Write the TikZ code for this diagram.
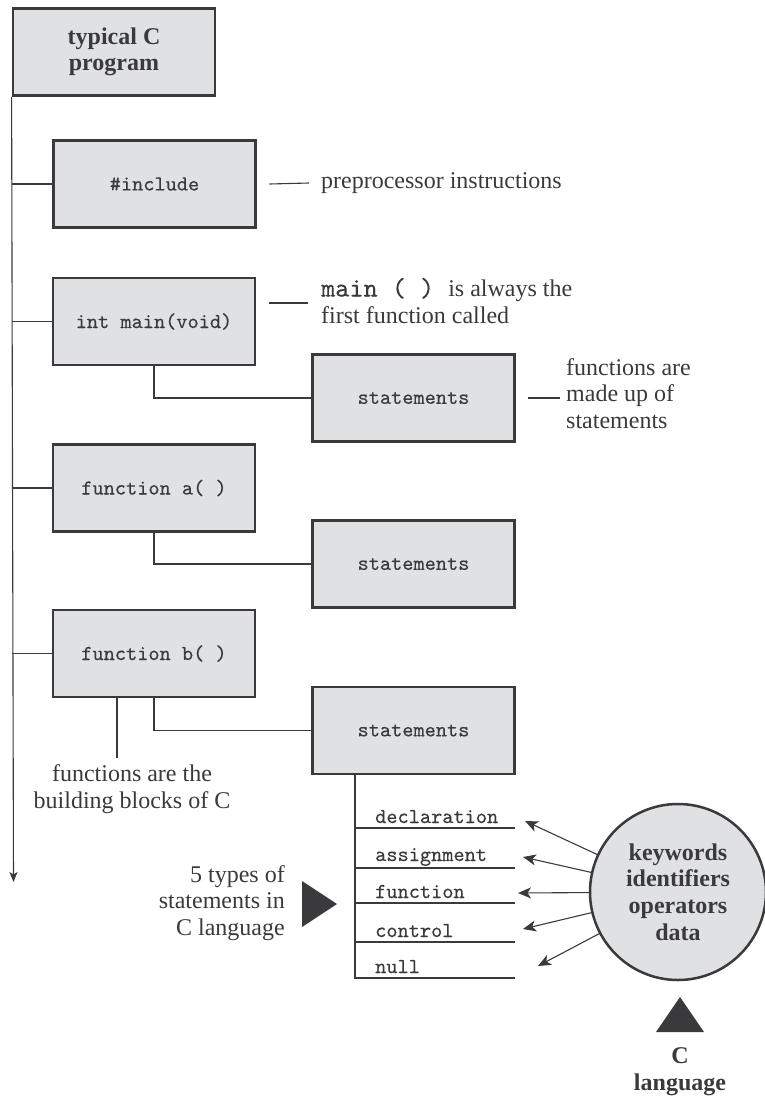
\documentclass[tikz,border=0pt]{standalone}
\usepackage{fontspec}
\setmainfont{Liberation Serif}
\newfontfamily\cour{lmmono10-regular.otf}[FakeBold=0.3]
\usetikzlibrary{arrows.meta}
\definecolor{ink}{RGB}{58,58,60}
\definecolor{boxfill}{RGB}{224,225,227}
\begin{document}
\begin{tikzpicture}[x=1pt,y=-1pt,
  box/.style={draw=ink, fill=boxfill, line width=2.8pt, minimum width=202pt,
    minimum height=87pt, inner sep=0pt, text=ink, font=\fontsize{21.3}{23}\cour},
  conn/.style={draw=ink, line width=1.1pt},
  arr/.style={conn, -{Stealth[length=13pt,width=11pt,inset=3.5pt]}},
  note/.style={inner sep=0pt, text=ink, font=\fontsize{24}{26.5}\selectfont},
  bnote/.style={inner sep=0pt, text=ink, font=\fontsize{24}{26.5}\selectfont\bfseries},
  item/.style={inner sep=0pt, text=ink, font=\fontsize{21.3}{23}\cour}]
\useasboundingbox (0,0) rectangle (765,1096);

% trunk and branches
\coordinate (tk) at (13.5,882);
\node[box, font=\fontsize{24}{26}\selectfont\bfseries, align=center] (top) at (114,52) {typical C\\program};
\node[box] (inc) at (154.5,184) {\#include};
\node[box] (mn) at (154,321.5) {int main(void)};
\node[box] (fa) at (154,488) {function a( )};
\node[box] (fb) at (154,653.5) {function b( )};
\node[box] (s1) at (413.5,398) {statements};
\node[box] (s2) at (413.5,564) {statements};
\node[box] (s3) at (413.5,730.5) {statements};

\draw[conn, -{Stealth[length=10pt,width=8pt,inset=2.5pt]}] (top.south west) -- (tk);
\draw[conn] (top.south west |- inc.west) -- (inc.west);
\draw[conn] (top.south west |- mn.west) -- (mn.west);
\draw[conn] (top.south west |- fa.west) -- (fa.west);
\draw[conn] (top.south west |- fb.west) -- (fb.west);
\draw[conn] (mn.south) |- (s1.west);
\draw[conn] (fa.south) |- (s2.west);
\draw[conn] (fb.south) |- (s3.west);

% annotations
\node[note, anchor=west] (pre) at (321,183) {preprocessor instructions};
\draw[conn] ([xshift=12.5pt]inc.east) -- ([xshift=-12pt]pre.west);

\node[note, anchor=base west, align=left] (mna) at (321,323)
  {{\fontsize{26.9}{26.5}\cour main ( ) }is always the\\first function called};
\coordinate (a2s) at (269,303);
\coordinate (a2e) at (308,303);
\draw[conn] (a2s) -- (a2e);

\node[note, anchor=base west, align=left] (fmu) at (566,428)
  {functions are\\made up of\\statements};
\draw[conn] ([xshift=12pt]s1.east) -- ++(32,0);

\coordinate (bb) at (117,758);
\draw[conn] (bb |- fb.south) -- (bb);
\node[note, anchor=base, align=center] (fbb) at (132,808)
  {functions are the\\building blocks of C};

% statement list
\coordinate (vx) at (355,978);
\coordinate (e1) at (515,828);
\coordinate (e2) at (515,868);
\coordinate (e3) at (515,903);
\coordinate (e4) at (515,942);
\coordinate (e5) at (515,978);
\draw[conn] (vx |- s3.south) -- (vx) -- (e5);
\draw[conn] (vx |- e1) -- (e1);
\draw[conn] (vx |- e2) -- (e2);
\draw[conn] (vx |- e3) -- (e3);
\draw[conn] (vx |- e4) -- (e4);
\node[item, anchor=base west] (i1) at (375,823) {declaration};
\node[item, anchor=base west] (i2) at (375,861) {assignment};
\node[item, anchor=base west] (i3) at (375,898) {function};
\node[item, anchor=base west] (i4) at (375,937) {control};
\node[item, anchor=base west] (i5) at (375,973) {null};

\node[note, anchor=base east, align=right] (five) at (285,935)
  {5 types of\\statements in\\C language};
\fill[ink] (302,881) -- (302,927) -- (337,904) -- cycle;

% C language circle
\node[draw=ink, fill=boxfill, circle, line width=2.5pt, minimum size=176pt,
  inner sep=0pt, text=ink, align=center, font=\fontsize{24}{26.7}\selectfont\bfseries]
  (circ) at (678,892) {keywords\\identifiers\\operators\\data};
\coordinate (t1) at (525,821);
\coordinate (t2) at (523,857);
\coordinate (t3) at (518,893);
\coordinate (t4) at (523,929);
\coordinate (t5) at (538,966);
\draw[arr] (circ) -- (t1);
\draw[arr] (circ) -- (t2);
\draw[arr] (circ) -- (t3);
\draw[arr] (circ) -- (t4);
\draw[arr] (circ) -- (t5);

\fill[ink] (680,997) -- (704,1032) -- (656,1032) -- cycle;
\node[bnote, anchor=base, align=center] (cl) at (680,1090) {C\\language};
\end{tikzpicture}
\end{document}
